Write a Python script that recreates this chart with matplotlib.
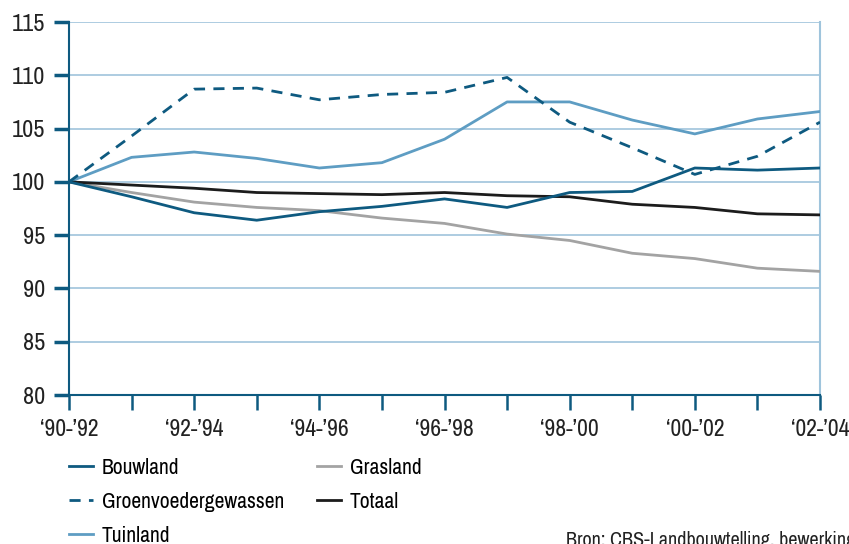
import matplotlib
matplotlib.use("Agg")
import matplotlib.pyplot as plt

plt.rcParams['font.family'] = ['Archivo Narrow', 'DejaVu Sans']

periods = ['\u201890-\u201992', '', '\u201892-\u201994', '', '\u201894-\u201996', '', '\u201896-\u201998', '',
           '\u201898-\u201900', '', '\u201800-\u201902', '', '\u201802-\u201904']
bouwland = [100, 98.6, 97.1, 96.4, 97.2, 97.7, 98.4, 97.6, 99.0, 99.1, 101.3, 101.1, 101.3]
grasland = [100, 99.0, 98.1, 97.6, 97.3, 96.6, 96.1, 95.1, 94.5, 93.3, 92.8, 91.9, 91.6]
groenvoeder = [100, 104.3, 108.7, 108.8, 107.7, 108.2, 108.4, 109.8, 105.6, 103.2, 100.7, 102.4, 105.6]
totaal = [100, 99.7, 99.4, 99.0, 98.9, 98.8, 99.0, 98.7, 98.6, 97.9, 97.6, 97.0, 96.9]
tuinland = [100, 102.3, 102.8, 102.2, 101.3, 101.8, 104.0, 107.5, 107.5, 105.8, 104.5, 105.9, 106.6]
y_ticks = [80, 85, 90, 95, 100, 105, 110, 115]
source = 'Bron: CBS-Landbouwtelling, bewerking MNP'

DARK = '#0e5a80'
LIGHT = '#5e9dc3'
GRID = '#9fc4dc'
GRAY = '#a3a3a3'
BLACK = '#1c1c1c'
TXT = '#222222'

fig = plt.figure(figsize=(8.49, 5.44), dpi=100)
ax = fig.add_axes([69/849, 1-395/544, (820-69)/849, (395-22)/544])

x = list(range(len(periods)))
lw = 2.0
h_tuin, = ax.plot(x, tuinland, color=LIGHT, lw=lw, zorder=3)
h_gras, = ax.plot(x, grasland, color=GRAY, lw=lw, zorder=3)
h_tot, = ax.plot(x, totaal, color=BLACK, lw=lw, zorder=4)
h_bouw, = ax.plot(x, bouwland, color=DARK, lw=lw, zorder=5)
h_groen, = ax.plot(x, groenvoeder, color=DARK, lw=lw, ls=(0, (4, 3)), zorder=5)

ax.set_xlim(0, len(periods)-1)
ax.set_ylim(80, 115)
ax.set_yticks(y_ticks)
ax.set_xticks(x)
ax.set_xticklabels(periods)
for yv in y_ticks[1:]:
    ax.axhline(yv, color=GRID, lw=1.2, zorder=1)

ax.spines['top'].set_visible(False)
ax.spines['right'].set_color(GRID)
ax.spines['right'].set_linewidth(1.5)
for s in ['left', 'bottom']:
    ax.spines[s].set_color(DARK)
    ax.spines[s].set_linewidth(1.5)
    ax.spines[s].set_zorder(6)

ax.tick_params(axis='y', direction='out', length=11, width=2.5, color=DARK,
               labelsize=17.5, labelcolor=TXT, pad=6)
ax.tick_params(axis='x', direction='out', length=11, width=1.8, color=DARK,
               labelsize=17, labelcolor=TXT, pad=6)

handles = [h_bouw, h_groen, h_tuin, h_gras, h_tot]
labels = ['Bouwland', 'Groenvoedergewassen', 'Tuinland', 'Grasland', 'Totaal']
fig.legend(handles, labels, ncol=2, loc='upper left', bbox_to_anchor=(60/849, 1-449/544),
           frameon=False, fontsize=15.5, handlelength=1.15, handletextpad=0.4,
           labelspacing=0.66, columnspacing=1.5, borderaxespad=0)

fig.text(566/849, 1-550/544, source, fontsize=14.5, color=TXT, ha='left', va='bottom')

fig.savefig('out.png', dpi=100)
